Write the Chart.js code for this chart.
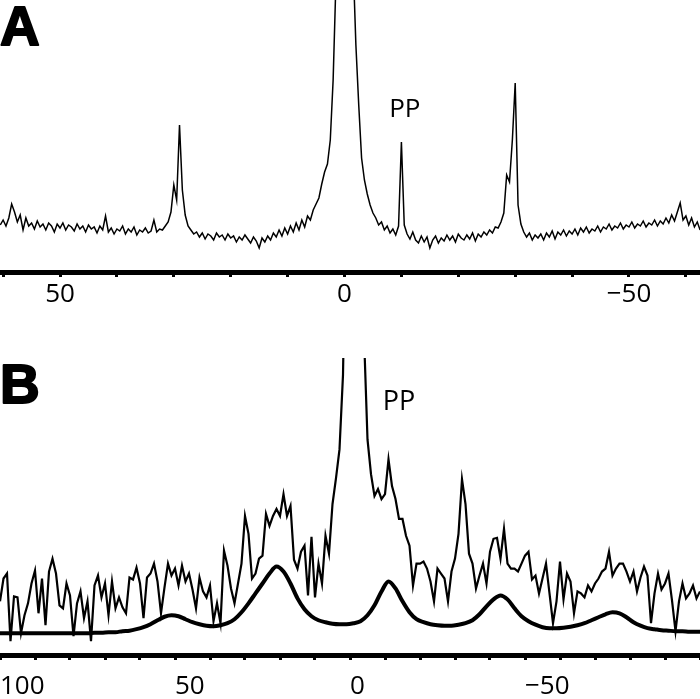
<!DOCTYPE html>
<html>
<head>
<meta charset="utf-8">
<script src="https://cdn.jsdelivr.net/npm/chart.js@4.4.1/dist/chart.umd.min.js"></script>
<style>
  html, body { margin: 0; padding: 0; background: #fff; }
  #wrap { position: relative; width: 700px; height: 699px; overflow: hidden; background: #fff; }
  .panel { position: absolute; left: 0; width: 700px; }
  #panelA { top: 0; height: 313px; }
  #panelB { top: 358px; height: 356px; }
</style>
</head>
<body>
<div id="wrap">
  <div class="panel" id="panelA"><canvas id="chartA"></canvas></div>
  <div class="panel" id="panelB"><canvas id="chartB"></canvas></div>
</div>
<script>
// spectrum A: sampled every 0.5 ppm from 60.5 ppm downwards
const shiftStartA = 60.5, shiftStepA = -0.5;
const intensityA = [
    45, 50, 44, 52, 66, 58, 48, 55, 40, 52,
    44, 47, 41, 49, 43, 46, 40, 47, 44, 38,
    46, 42, 47, 40, 45, 43, 39, 46, 41, 44,
    38, 45, 41, 43, 37, 44, 40, 54, 38, 42,
    36, 41, 39, 44, 36, 41, 38, 43, 35, 40,
    38, 42, 37, 39, 50, 38, 41, 40, 44, 48,
    58, 85, 70, 145, 80, 55, 44, 40, 36, 38,
    33, 37, 31, 36, 34, 30, 37, 33, 35, 30,
    36, 32, 34, 28, 33, 30, 35, 31, 27, 33,
    29, 22, 32, 28, 34, 30, 37, 33, 40, 34,
    42, 36, 44, 38, 47, 40, 50, 43, 54, 50,
    60, 66, 72, 86, 98, 106, 130, 190, 290, 450,
    700, 900, 850, 550, 310, 225, 165, 112, 90, 76,
    65, 57, 52, 45, 48, 40, 44, 37, 41, 35,
    44, 128, 45, 36, 31, 38, 30, 27, 34, 28,
    33, 22, 30, 34, 27, 32, 29, 35, 30, 34,
    28, 36, 32, 30, 35, 31, 37, 29, 36, 33,
    38, 35, 40, 37, 43, 42, 48, 57, 95, 88,
    130, 187, 65, 46, 38, 33, 37, 30, 35, 32,
    36, 30, 37, 33, 39, 31, 38, 35, 40, 34,
    39, 36, 41, 35, 42, 38, 43, 37, 41, 39,
    44, 38, 43, 41, 46, 40, 44, 42, 47, 41,
    45, 43, 48, 42, 46, 44, 49, 43, 47, 45,
    50, 44, 49, 46, 52, 47, 55, 49, 58, 67,
    50, 54, 45, 52, 43, 48, 40
];

// spectrum B: sampled every 1 ppm from 100 ppm downwards
const shiftStartB = 100, shiftStepB = -1;
const intensityB = [
    62, 85, 90, 22, 67, 66, 30, 48, 60, 80,
    93, 50, 85, 38, 92, 105, 90, 58, 55, 80,
    68, 27, 60, 72, 45, 62, 22, 78, 88, 66,
    80, 48, 82, 55, 66, 56, 50, 86, 84, 96,
    80, 45, 86, 90, 100, 82, 50, 76, 100, 88,
    95, 78, 98, 82, 90, 74, 55, 86, 72, 66,
    78, 42, 60, 40, 113, 98, 75,
    60, 80, 100, 148, 130, 85, 90, 105, 108, 150,
    138, 148, 155, 148, 170, 148, 158, 104, 95, 112,
    118, 68, 127, 66, 100, 80, 128, 110, 160, 186,
    215, 290, 500, 700, 800, 750, 550, 330, 225, 190,
    168, 175, 165, 170, 205, 178, 165, 145, 145, 128,
    118, 78, 100, 100, 102, 95, 82, 62, 95, 90,
    85, 62, 92, 105, 130, 185, 160,
    110, 100, 75, 88, 100, 80, 112, 125, 126, 105,
    135, 100, 95, 95, 92, 100, 108, 112, 84, 88,
    70, 85, 100, 70, 40, 62, 102, 64, 90, 82,
    50, 72, 70, 66, 78, 72, 80, 85, 92, 95,
    112, 88, 95, 100, 100, 92, 82, 92, 72, 86,
    97, 88, 40, 70, 90, 74, 80, 90, 63, 32,
    62, 80, 65, 70, 78, 65, 72
];

// simulated sideband pattern for B, every 2 ppm from 101 ppm
const fitStartB = 101, fitStepB = -2;
const fitB = [
    30, 30, 30, 30, 30, 30, 30, 30, 30, 30,
    30, 30, 30, 30, 30.5, 30.5, 31, 31, 32, 32.5,
    34, 36, 39, 43, 46.5, 48, 47, 44, 41, 39,
    37.5, 37, 38, 40, 44, 51, 60, 70, 80, 90,
    97, 92, 80, 65, 54, 47, 43, 41, 39.5, 39,
    39, 40, 42, 48, 58, 72, 82, 75, 62, 51,
    44, 41, 39, 38, 37.5, 37.5, 38.5, 40, 43, 49,
    57, 64, 68, 64, 55, 47, 42, 38.5, 36, 35,
    35, 35.5, 36.5, 38, 40, 43, 46, 49, 51, 50,
    46, 41, 37.5, 35, 34, 33, 32.5, 32, 32, 31.5,
    31.5, 31
];

const tickLabelsA = [50, 0, -50];
const tickLabelsB = [100, 50, 0, -50];

function toPoints(start, step, values) {
    return values.map((v, i) => ({ x: start + i * step, y: v }));
}

function fmtTick(v) {
    return v < 0 ? '\u2212' + Math.abs(v) : String(v);
}

// draws panel letters and peak labels
const textMarks = {
    id: 'textMarks',
    afterDatasetsDraw(chart, args, opts) {
        const ctx = chart.ctx;
        const xs = chart.scales.x, ys = chart.scales.y;
        ctx.save();
        ctx.fillStyle = '#000';
        ctx.strokeStyle = '#000';
        (opts.items || []).forEach(it => {
            ctx.font = it.font;
            ctx.textAlign = it.align || 'left';
            ctx.textBaseline = 'alphabetic';
            const px = it.ppm !== undefined ? xs.getPixelForValue(it.ppm) : it.px;
            const py = it.h !== undefined ? ys.getPixelForValue(it.h) : it.py;
            ctx.fillText(it.text, px, py);
            if (it.stroke) {
                ctx.lineWidth = it.stroke;
                ctx.lineJoin = 'round';
                ctx.strokeText(it.text, px, py);
            }
        });
        ctx.restore();
    }
};

function makeOptions(xMin, xMax, yMin, yMax, labels, align, pad, items) {
    return {
        responsive: true,
        maintainAspectRatio: false,
        animation: false,
        layout: { padding: 0 },
        elements: { point: { radius: 0 } },
        plugins: {
            legend: { display: false },
            tooltip: { enabled: false },
            textMarks: { items }
        },
        scales: {
            x: {
                type: 'linear',
                reverse: true,
                min: xMin,
                max: xMax,
                // keep the plot running edge to edge
                afterFit: scale => { scale.paddingLeft = 0; scale.paddingRight = 0; },
                border: { display: true, width: 5, color: '#000' },
                grid: { drawOnChartArea: false, drawTicks: true, tickLength: 5, tickWidth: 3, tickColor: '#000' },
                ticks: {
                    stepSize: 10,
                    autoSkip: false,
                    maxRotation: 0,
                    includeBounds: false,
                    align: align,
                    padding: pad,
                    color: '#000',
                    font: { family: 'Open Sans', size: 26, lineHeight: 1 },
                    callback: v => labels.includes(v) ? fmtTick(v) : ''
                }
            },
            y: { display: false, min: yMin, max: yMax }
        }
    };
}

const chartA = new Chart(document.getElementById('chartA').getContext('2d'), {
    type: 'line',
    data: {
        datasets: [{
            data: toPoints(shiftStartA, shiftStepA, intensityA),
            borderColor: '#000',
            borderWidth: 1.5,
            tension: 0
        }]
    },
    options: makeOptions(-62.48, 60.55, -2, 270, tickLabelsA, 'center', 5, [
        { text: 'A', px: 0, py: 45, font: 'bold 55px "Liberation Sans"', stroke: 2 },
        { text: 'PP', ppm: -10.6, h: 153, align: 'center', font: '26px "Open Sans"' }
    ]),
    plugins: [textMarks]
});

const chartB = new Chart(document.getElementById('chartB').getContext('2d'), {
    type: 'line',
    data: {
        datasets: [{
            data: toPoints(shiftStartB, shiftStepB, intensityB),
            borderColor: '#000',
            borderWidth: 2.2,
            tension: 0
        }, {
            data: toPoints(fitStartB, fitStepB, fitB),
            borderColor: '#000',
            borderWidth: 4,
            cubicInterpolationMode: 'monotone'
        }]
    },
    options: makeOptions(-100, 100, 8, 307, tickLabelsB, 'start', 14, [
        { text: 'B', px: 0, py: 45, font: 'bold 55px "Liberation Sans"', stroke: 2 },
        { text: 'PP', ppm: -14, h: 255, align: 'center', font: '27px "Open Sans"' }
    ]),
    plugins: [textMarks]
});
</script>
</body>
</html>
